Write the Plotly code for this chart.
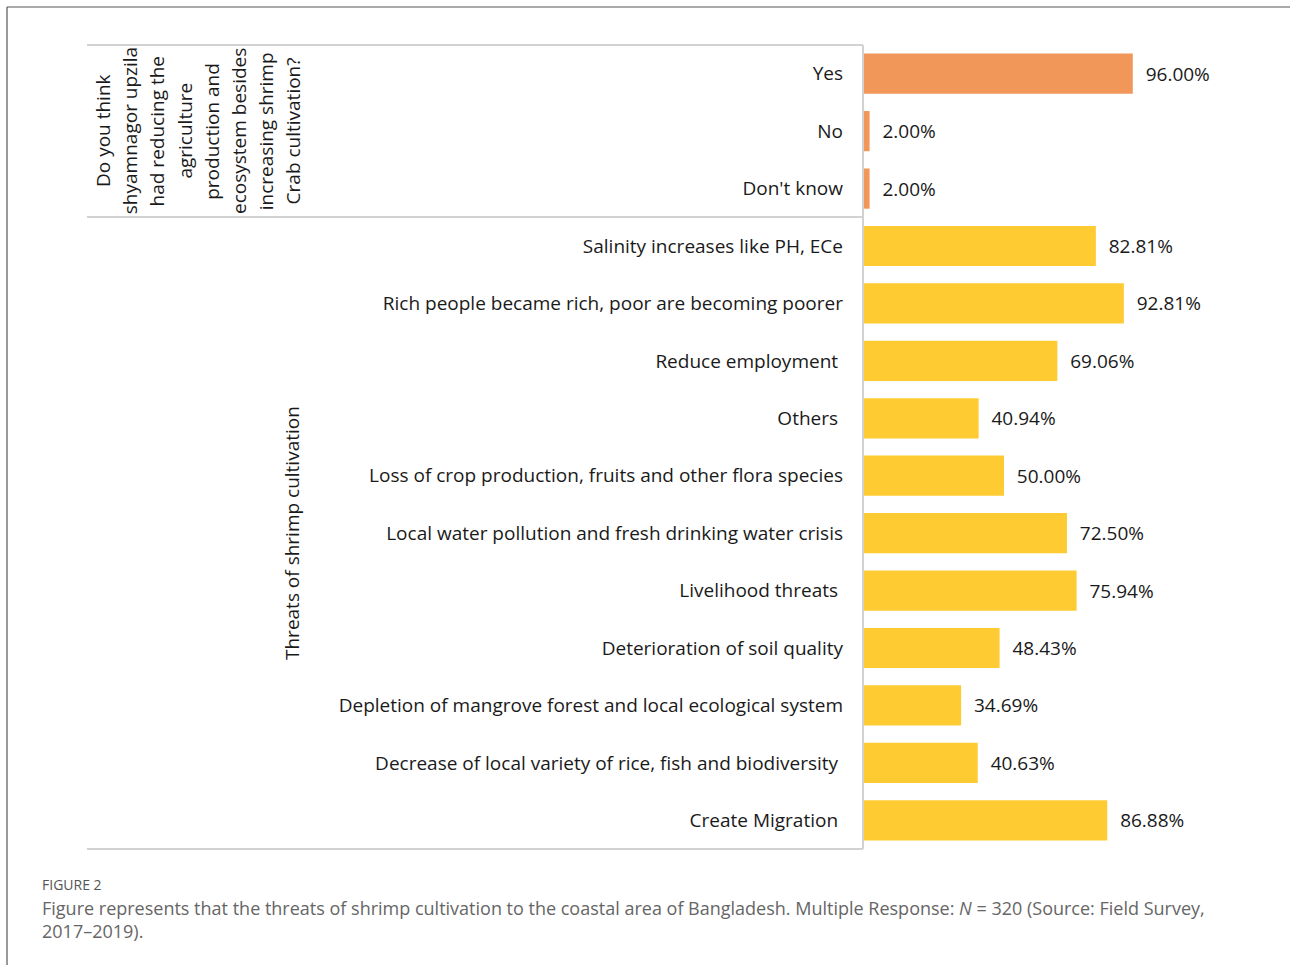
import plotly.graph_objects as go

categories = [
    "Yes", "No", "Don't know",
    "Salinity increases like PH, ECe",
    "Rich people became rich, poor are becoming poorer",
    "Reduce employment\u00a0",
    "Others\u00a0",
    "Loss of crop production, fruits and other flora species",
    "Local water pollution and fresh drinking water crisis",
    "Livelihood threats\u00a0",
    "Deterioration of soil quality",
    "Depletion of mangrove forest and local ecological system",
    "Decrease of local variety of rice, fish and biodiversity\u00a0",
    "Create Migration\u00a0",
]
values = [96.00, 2.00, 2.00, 82.81, 92.81, 69.06, 40.94, 50.00, 72.50, 75.94, 48.43, 34.69, 40.63, 86.88]
groups = ["q"] * 3 + ["t"] * 11
group_q_lines = ["Do you think", "shyamnagor upzila", "had reducing the", "agriculture",
                 "production and", "ecosystem besides", "increasing shrimp", "Crab cultivation?"]
group_t_label = "Threats of shrimp cultivation"

ORANGE = "#F2975A"
YELLOW = "#FFCB32"
colors = [ORANGE if g == "q" else YELLOW for g in groups]

W, H = 1290, 965
L, R, T, B = 864, 1144, 45, 849
FONT = "Open Sans"
FS = 19
TXT = "#1a1a1a"

def px(x):
    return (x - L) / (R - L)

def py(y):
    return (B - y) / (B - T)

fig = go.Figure(go.Bar(
    x=values, y=categories, orientation="h",
    marker=dict(color=colors, line=dict(width=0)),
    width=0.7,
    text=[f"\u00a0\u00a0{v:.2f}%" for v in values],
    textposition="outside",
    textfont=dict(family=FONT, size=FS, color=TXT),
    cliponaxis=False,
))

line_col = "#d2d2d2"
shapes = []
for y in (T, 217, B):
    shapes.append(dict(type="line", xref="paper", yref="paper", x0=px(87), x1=px(863),
                       y0=py(y), y1=py(y), line=dict(color=line_col, width=2)))
shapes.append(dict(type="line", xref="paper", yref="paper", x0=px(863), x1=px(863),
                   y0=py(T), y1=py(B), line=dict(color=line_col, width=2)))
# figure frame
shapes.append(dict(type="line", xref="paper", yref="paper", x0=px(7), x1=px(1290),
                   y0=py(7), y1=py(7), line=dict(color="#555555", width=1.2)))
shapes.append(dict(type="line", xref="paper", yref="paper", x0=px(7), x1=px(7),
                   y0=py(7), y1=py(965), line=dict(color="#555555", width=1.2)))

annotations = []
for i, line in enumerate(group_q_lines):
    annotations.append(dict(text=line, xref="paper", yref="paper", x=px(103 + i * 27.2), y=py(131),
                            xanchor="center", yanchor="middle",
                            textangle=-90, showarrow=False,
                            font=dict(family=FONT, size=FS, color=TXT)))
annotations += [
    dict(text=group_t_label, xref="paper", yref="paper", x=px(292), y=py(533),
         xanchor="center", yanchor="middle",
         textangle=-90, showarrow=False,
         font=dict(family=FONT, size=FS, color=TXT)),
    dict(text="FIGURE 2", xref="paper", yref="paper", x=px(40), y=py(884),
         xanchor="left", yanchor="middle", showarrow=False,
         font=dict(family=FONT, size=14, color="#555555")),
    dict(text=("Figure represents that the threats of shrimp cultivation to the coastal area of Bangladesh. "
               "Multiple Response: <i>N</i> = 320 (Source: Field Survey,<br>2017\u20132019)."),
         xref="paper", yref="paper", x=px(40), y=py(894),
         xanchor="left", yanchor="top", align="left", showarrow=False,
         font=dict(family=FONT, size=18, color="#666666")),
]

fig.update_layout(
    width=W, height=H,
    margin=dict(l=L, r=W - R, t=T, b=H - B, pad=0),
    paper_bgcolor="white", plot_bgcolor="white",
    showlegend=False,
    xaxis=dict(range=[0, 100], visible=False, fixedrange=True),
    yaxis=dict(type="category", categoryorder="array", categoryarray=categories,
               range=[13.5, -0.5], showgrid=False, zeroline=False, showline=False,
               ticks="", ticklabelstandoff=20,
               tickfont=dict(family=FONT, size=FS, color=TXT)),
    shapes=shapes, annotations=annotations,
    font=dict(family=FONT),
)

fig.write_html("out.html")
